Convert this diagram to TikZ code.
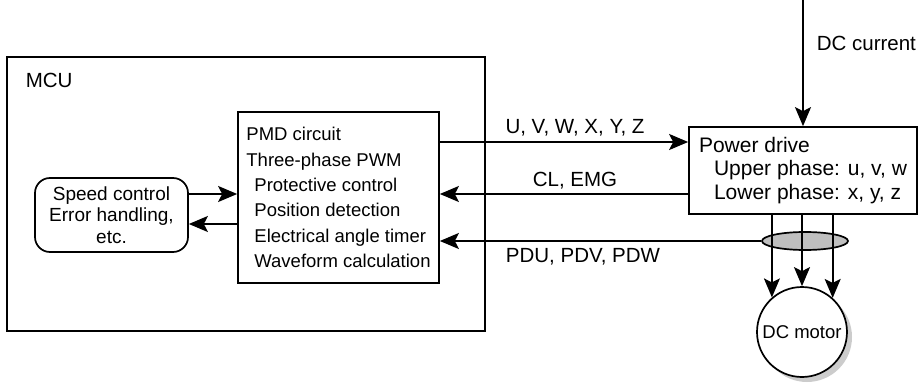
\documentclass[tikz,border=0pt]{standalone}
\usepackage{fontspec}
\setmainfont{Liberation Sans}
\usetikzlibrary{arrows.meta,shapes.geometric}

\begin{document}
\begin{tikzpicture}[x=1pt, y=-1pt, line width=1.7pt,
    arr/.style={-{Stealth[length=19pt, width=16pt, inset=4pt]}},
    blk/.style={draw, rectangle, inner sep=0pt},
    lbl/.style={anchor=base, font=\fontsize{20.5}{24}\selectfont}]
    \useasboundingbox (0,0) rectangle (924,385);
    % MCU and its two blocks.
        \node[blk, minimum width=478pt, minimum height=274pt] (mcu) at (246,194) {};
        \node[anchor=west, inner sep=0pt, font=\fontsize{20.5}{24}\selectfont] (mculbl) at (25,80) {MCU};
        \node[draw, rounded corners=15pt, minimum width=153pt, minimum height=74pt, inner sep=0pt,
              align=center, font=\fontsize{19}{21.5}\selectfont] (sc) at (111.5,215)
              {Speed control\\Error handling,\\etc.};
        \node[blk, minimum width=201pt, minimum height=171pt, align=left,
              font=\fontsize{18.5}{25.4}\selectfont] (pmd) at (338.5,197.5)
              {PMD circuit\\Three-phase PWM\\\hspace{8pt}Protective control\\\hspace{8pt}Position detection\\
               \hspace{8pt}Electrical angle timer\\\hspace{8pt}Waveform calculation};
    % Power side.
        \node[blk, minimum width=228pt, minimum height=87pt, align=left,
              font=\fontsize{21}{23.5}\selectfont] (pd) at (803,170.5)
              {Power drive\\\hspace{15pt}Upper phase: u, v, w\\\hspace{15pt}Lower phase: x, y, z};
        \node[draw, ellipse, fill=gray!50, minimum width=86pt, minimum height=18pt, inner sep=0pt] (bundle) at (805,241) {};
        % Shadow under the motor.
        \fill[gray!40] (807,337) circle (45);
        \node[draw, circle, fill=white, minimum size=90pt, inner sep=0pt,
              font=\fontsize{18.5}{22}\selectfont] (motor) at (802,332) {DC motor};
        \coordinate (dctop) at (803,0);
        \node[anchor=west, inner sep=0pt, font=\fontsize{20.5}{24}\selectfont] (dclbl) at (816,43) {DC current};
    % Arrows between the blocks.
        \draw[arr] (sc.east |- 0,194) -- (pmd.west |- 0,194);
        \draw[arr] (pmd.west |- 0,224) -- (sc.east |- 0,224);
        \draw[arr] (pmd.east |- 0,142) -- (pd.west |- 0,142);
        \draw[arr] (pd.west |- 0,194) -- (pmd.east |- 0,194);
        \draw[arr] (bundle.west) -- (pmd.east |- bundle.west);
        \draw[arr] (dctop) -- (pd.north);
        \draw[arr] (pd.south -| motor.131.8) -- (motor.131.8);
        \draw[arr] (pd.south -| motor.north) -- (motor.north);
        \draw[arr] (pd.south -| motor.48.2) -- (motor.48.2);
    % Labels on the signal lines.
        \node[lbl] (uvw) at (575,134) {U, V, W, X, Y, Z};
        \node[lbl] (clemg) at (575,186) {CL, EMG};
        \node[lbl] (pdu) at (583,262) {PDU, PDV, PDW};
\end{tikzpicture}
\end{document}
